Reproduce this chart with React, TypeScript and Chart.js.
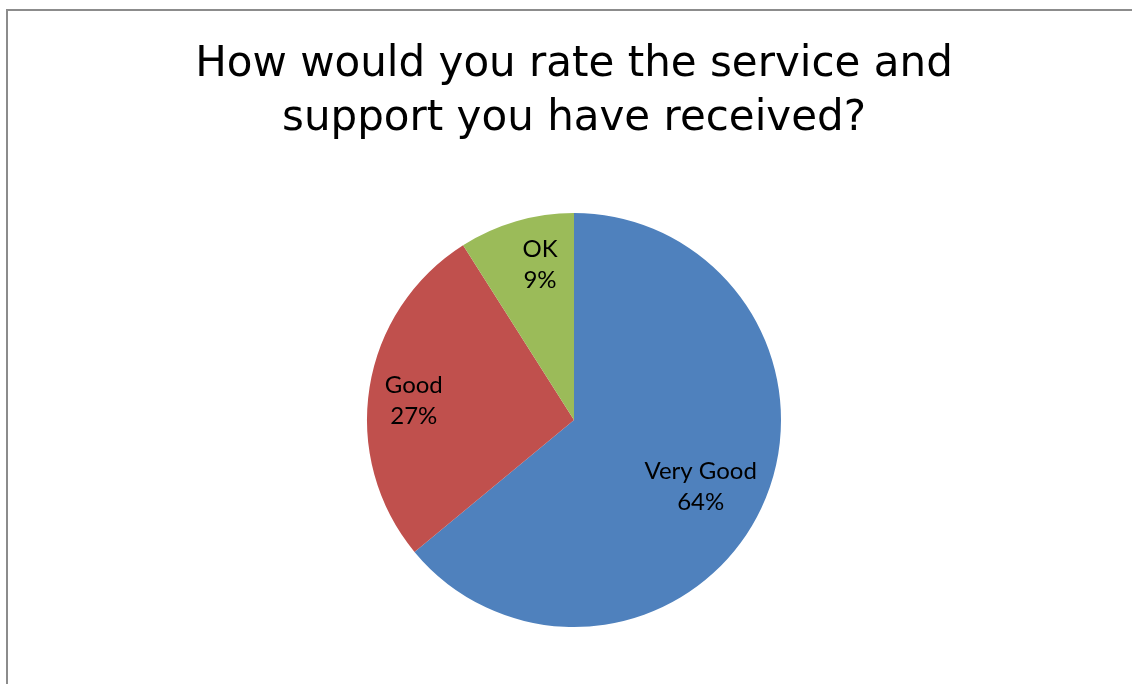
import React, { useEffect, useRef } from "react";
import { Chart, registerables } from "chart.js";

Chart.register(...registerables);

const titleLines = ["How would you rate the service and", "support you have received?"];
const categories = ["Very Good", "Good", "OK"];
const percentages = [64, 27, 9];
const sliceColors = ["#4F81BD", "#C0504D", "#9BBB59"];

const labelRadiusFraction = [0.69, 0.78, 0.77];
const labelAngleFraction = [0.51, 0.48, 0.62];

const customText = {
  id: "customText",
  afterDraw(chart: any) {
    const ctx = chart.ctx;
    ctx.save();
    // title
    ctx.fillStyle = "#000000";
    ctx.textAlign = "center";
    ctx.textBaseline = "alphabetic";
    ctx.font = "42px 'DejaVu Sans'";
    titleLines.forEach((line, i) => {
      ctx.fillText(line, 574, 76 + i * 54);
    });
    // data labels
    const meta = chart.getDatasetMeta(0);
    const data = chart.data.datasets[0].data as number[];
    const total = data.reduce((a, b) => a + b, 0);
    ctx.font = "24px Lato";
    ctx.textBaseline = "middle";
    meta.data.forEach((arc: any, i: number) => {
      const p = arc.getProps(["x", "y", "startAngle", "endAngle", "outerRadius"], true);
      const ang = p.startAngle + (p.endAngle - p.startAngle) * labelAngleFraction[i];
      const r = p.outerRadius * labelRadiusFraction[i];
      const cx = p.x + Math.cos(ang) * r;
      const cy = p.y + Math.sin(ang) * r;
      const pct = Math.round((data[i] / total) * 100) + "%";
      ctx.fillText(String(chart.data.labels[i]), cx, cy - 15);
      ctx.fillText(pct, cx, cy + 16);
    });
    ctx.restore();
  },
};

export default function App() {
  const ref = useRef<HTMLCanvasElement | null>(null);
  useEffect(() => {
    if (!ref.current) return;
    const chart = new Chart(ref.current, {
      type: "pie",
      data: {
        labels: categories,
        datasets: [
          {
            data: percentages,
            backgroundColor: sliceColors,
            borderWidth: 0,
            radius: 207,
          } as any,
        ],
      },
      options: {
        responsive: false,
        animation: false,
        devicePixelRatio: 1,
        layout: { padding: { left: 16, right: 0, top: 200, bottom: 44 } },
        plugins: {
          legend: { display: false },
          title: { display: false },
          tooltip: { enabled: false },
        },
      },
      plugins: [customText],
    });
    return () => chart.destroy();
  }, []);
  return (
    <div style={{ position: "fixed", left: 0, top: 0, width: 1132, height: 684, background: "#ffffff", overflow: "hidden" }}>
      <div
        style={{
          position: "absolute",
          left: 6,
          top: 9,
          width: 1200,
          height: 800,
          border: "2px solid #8c8c8c",
        }}
      />
      <canvas ref={ref} width={1132} height={684} style={{ position: "absolute", left: 0, top: 0, width: 1132, height: 684 }} />
    </div>
  );
}
